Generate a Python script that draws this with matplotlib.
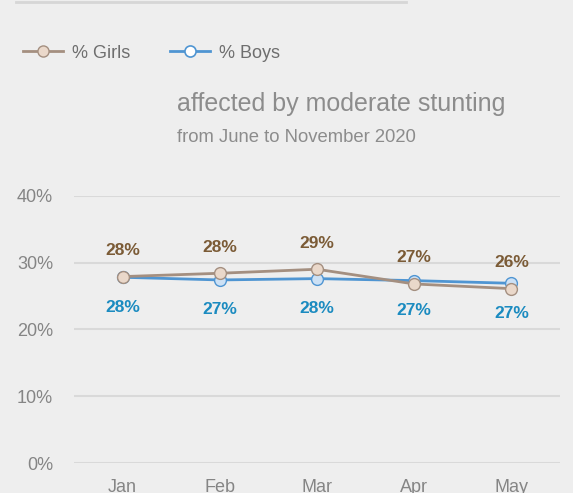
import matplotlib
matplotlib.use("Agg")
import matplotlib.pyplot as plt
from matplotlib.lines import Line2D

# data
months = ["Jan", "Feb", "Mar", "Apr", "May"]
girls = [27.9, 28.4, 29.0, 26.8, 26.1]
boys = [27.8, 27.4, 27.6, 27.3, 26.9]
yticks = [0, 10, 20, 30, 40]

bg = "#eeeeee"
girl_line = "#a48f80"
girl_face = "#ead8ca"
girl_text = "#7b5b36"
boy_line = "#4f95d2"
boy_face = "#cde1f5"
boy_text = "#1b8bc0"
grey = "#858585"

plt.rcParams["font.family"] = ["Liberation Sans", "DejaVu Sans"]

fig = plt.figure(figsize=(5.73, 4.93), dpi=100, facecolor=bg)
ax = fig.add_axes([74 / 573, 0.0602, 486 / 573, 0.543])
ax.set_facecolor(bg)

x = list(range(len(months)))
ax.plot(x, boys, color=boy_line, lw=2, marker="o", ms=8.5,
        mfc=boy_face, mec=boy_line, mew=1, clip_on=False, zorder=3)
ax.plot(x, girls, color=girl_line, lw=2, marker="o", ms=8.5,
        mfc=girl_face, mec=girl_line, mew=1, clip_on=False, zorder=4)

for i in x:
    ax.annotate(f"{round(girls[i])}%", (i, girls[i]), xytext=(0, 26),
                textcoords="offset pixels", ha="center", va="center",
                fontsize=12.5, fontweight="bold", color=girl_text)
    ax.annotate(f"{round(boys[i])}%", (i, boys[i]), xytext=(0, -30),
                textcoords="offset pixels", ha="center", va="center",
                fontsize=12.5, fontweight="bold", color=boy_text)

ax.set_xlim(-0.5, len(months) - 0.5)
ax.set_ylim(0, 40)
ax.set_yticks(yticks)
ax.set_yticklabels([f"{v}%" for v in yticks])
ax.set_xticks(x)
ax.set_xticklabels(months)
ax.grid(axis="y", color="#d9d9d9", lw=1.5)
ax.set_axisbelow(True)
for s in ax.spines.values():
    s.set_visible(False)
ax.tick_params(axis="y", length=0, pad=15, labelsize=13, labelcolor=grey)
ax.tick_params(axis="x", length=0, pad=11, labelsize=13, labelcolor=grey)

# top rule
fig.add_artist(Line2D([16 / 573, 406 / 573], [1 - 2 / 493, 1 - 2 / 493],
                      color="#d6d6d6", lw=2))

handles = [
    Line2D([], [], color=girl_line, lw=2, marker="o", ms=8,
           mfc=girl_face, mec=girl_line, mew=1),
    Line2D([], [], color=boy_line, lw=2, marker="o", ms=8,
           mfc="white", mec=boy_line, mew=1.2),
]
fig.legend(handles, ["% Girls", "% Boys"], loc="center left",
           bbox_to_anchor=(7 / 573, 1 - 53 / 493), ncol=2, frameon=False,
           fontsize=13, labelcolor="#6e6e6e", handlelength=2.2,
           handletextpad=0.5, columnspacing=2.2)

fig.text(177 / 573, 1 - 104 / 493, "affected by moderate stunting",
         fontsize=18, color="#8c8c8c", ha="left", va="center")
fig.text(177 / 573, 1 - 138 / 493, "from June to November 2020",
         fontsize=13.3, color="#8c8c8c", ha="left", va="center")

fig.savefig("out.png", dpi=100, facecolor=bg)
